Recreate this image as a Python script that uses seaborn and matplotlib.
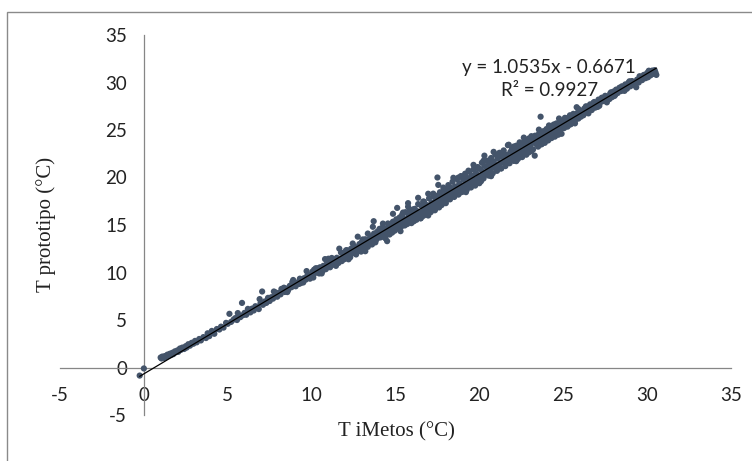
import matplotlib
matplotlib.use("Agg")
import matplotlib.pyplot as plt
import seaborn as sns
import pandas as pd
import numpy as np
from matplotlib.patches import Rectangle

# ---- data ----
t_imetos = [
    -0.25, 0.00,
    1.00, 1.05, 1.10, 1.20, 1.25, 1.30, 1.40, 1.45, 1.55, 1.60, 1.70, 1.75, 1.85, 1.90,
    2.00, 2.05, 2.15, 2.20, 2.30, 2.40, 2.50, 2.55, 2.65, 2.75, 2.85, 2.95, 3.05, 3.15,
    3.30, 3.40, 3.55, 3.70, 3.80, 3.90, 4.05, 4.20, 4.35, 4.50, 4.60, 4.75, 4.90, 5.00,
    5.10, 5.20, 5.35,
    5.45, 5.55, 5.65, 5.75, 5.85, 5.90, 6.00, 6.10, 6.25, 6.35, 6.45, 6.55, 6.65, 6.75,
    6.85, 6.95, 7.05, 7.10, 7.20, 7.30, 7.40, 7.50, 7.60, 7.70, 7.80, 7.85, 7.95, 8.05,
    8.15, 8.25, 8.35, 8.40, 8.50, 8.60, 8.70, 8.80, 8.85, 8.95, 9.05, 9.15, 9.25, 9.30,
    9.40, 9.50, 9.55, 9.65, 9.75, 9.80, 9.90, 10.00,
    10.05, 10.10, 10.15, 10.20, 10.25, 10.30, 10.40, 10.45, 10.50, 10.55, 10.65, 10.70,
    10.75, 10.85, 10.90, 10.95, 11.00, 11.05, 11.10, 11.15, 11.25, 11.30, 11.35, 11.40,
    11.50, 11.55, 11.60, 11.70, 11.75, 11.80, 11.90, 11.95, 12.00, 12.05, 12.10, 12.15,
    12.25, 12.30, 12.35, 12.40, 12.50, 12.55, 12.60, 12.65, 12.70, 12.80, 12.85, 12.90,
    12.95, 13.00, 13.05, 13.10, 13.15, 13.20, 13.25, 13.30, 13.35, 13.40, 13.45, 13.50,
    13.55, 13.60, 13.65, 13.70, 13.72, 13.75, 13.80, 13.85, 13.90, 13.95, 14.00, 14.05,
    14.10, 14.15, 14.20, 14.25, 14.30, 14.35, 14.40, 14.45, 14.50, 14.55, 14.60, 14.65,
    14.70, 14.75, 14.80, 14.85, 14.90, 14.95, 15.00,
    15.05, 15.10, 15.10, 15.15, 15.20, 15.25, 15.30, 15.35, 15.40, 15.45, 15.50, 15.55,
    15.60, 15.65, 15.70, 15.75, 15.78, 15.80, 15.85, 15.90, 15.95, 16.00, 16.05, 16.10,
    16.15, 16.20, 16.25, 16.30, 16.35, 16.40, 16.45, 16.50, 16.55, 16.60, 16.65, 16.70,
    16.75, 16.80, 16.85, 16.90, 16.95, 17.00, 17.05, 17.10, 17.15, 17.20, 17.25, 17.30,
    17.35, 17.40, 17.45, 17.50, 17.52, 17.55, 17.60, 17.65, 17.70, 17.75, 17.80, 17.85,
    17.90, 17.95, 18.00, 18.05, 18.10, 18.15, 18.20, 18.25, 18.30, 18.35, 18.40, 18.45,
    18.50, 18.55, 18.60, 18.65, 18.70, 18.75, 18.80, 18.85, 18.90, 18.95, 19.00, 19.05,
    19.10, 19.15, 19.20, 19.25, 19.30, 19.35, 19.40, 19.45, 19.50, 19.55, 19.60, 19.65,
    19.70, 19.75, 19.80, 19.85, 19.90, 19.95, 20.00,
    20.05, 20.10, 20.15, 20.20, 20.25, 20.30, 20.32, 20.40, 20.45, 20.50, 20.55, 20.60,
    20.65, 20.70, 20.75, 20.80, 20.85, 20.90, 20.95, 21.00, 21.05, 21.10, 21.15, 21.20,
    21.25, 21.30, 21.35, 21.40, 21.45, 21.50, 21.55, 21.60, 21.65, 21.70, 21.72, 21.80,
    21.85, 21.90, 21.95, 22.00, 22.05, 22.10, 22.15, 22.20, 22.25, 22.30, 22.35, 22.40,
    22.45, 22.50, 22.55, 22.60, 22.65, 22.70, 22.75, 22.80, 22.85, 22.90, 22.95, 23.00,
    23.05, 23.10, 23.15, 23.20, 23.25, 23.30, 23.32, 23.40, 23.45, 23.50, 23.55, 23.60,
    23.65, 23.70, 23.75, 23.80, 23.85, 23.90, 23.95, 24.00, 24.05, 24.10, 24.15, 24.20,
    24.25, 24.30, 24.35, 24.40, 24.45, 24.50, 24.55, 24.60, 24.65, 24.70, 24.75, 24.80,
    24.85, 24.90, 24.95, 25.00,
    25.05, 25.10, 25.15, 25.20, 25.25, 25.30, 25.35, 25.40, 25.45, 25.50, 25.55, 25.60,
    25.65, 25.70, 25.75, 25.80, 25.85, 25.90, 25.95, 26.00, 26.05, 26.10, 26.20, 26.25,
    26.30, 26.40, 26.45, 26.55, 26.60, 26.70, 26.75, 26.85, 26.90, 27.00, 27.10, 27.15,
    27.25, 27.30, 27.40, 27.50, 27.55, 27.65, 27.75, 27.80, 27.90, 28.00, 28.10, 28.15,
    28.25, 28.35, 28.45, 28.50, 28.60, 28.70, 28.80, 28.90, 29.00, 29.10, 29.20, 29.35,
    29.40, 29.50, 29.60, 29.70, 29.80, 29.90, 30.00, 30.05, 30.15, 30.20, 30.30, 30.35,
    30.45, 30.50, 30.55,
]

t_prototipo = [
    -0.85, -0.10,
    1.05, 0.95, 1.15, 1.00, 1.20, 1.10, 1.35, 1.20, 1.45, 1.30, 1.55, 1.40, 1.70, 1.60,
    1.80, 1.65, 2.00, 1.85, 2.10, 1.95, 2.25, 2.10, 2.45, 2.30, 2.60, 2.50, 2.80, 2.65,
    3.00, 2.85, 3.20, 3.10, 3.60, 3.30, 3.85, 3.55, 4.05, 4.00, 4.30, 4.20, 4.70, 4.60,
    5.65, 4.80, 5.05,
    5.20, 5.00, 5.45, 5.30, 6.80, 5.50, 5.75, 5.55, 5.95, 5.80, 6.20, 6.00, 6.45, 6.30,
    6.15, 6.75, 8.00, 6.60, 6.95, 6.80, 7.20, 7.00, 7.40, 7.25, 7.60, 7.90, 7.45, 7.85,
    7.70, 8.10, 8.40, 7.95, 8.30, 8.15, 8.60, 8.45, 9.00, 8.70, 8.55, 8.95, 8.80, 9.35,
    9.10, 8.95, 9.40, 9.25, 9.70, 9.50, 9.35, 9.85,
    10.10, 9.75, 10.30, 9.95, 10.45, 10.05, 10.20, 9.90, 10.55, 10.30, 10.15, 10.70,
    10.45, 10.35, 10.90, 10.60, 11.45, 10.80, 10.55, 11.05, 10.85, 11.30, 11.10, 10.80,
    11.55, 11.25, 11.00, 11.45, 12.10, 11.20, 11.70, 11.40, 12.00, 11.65, 12.35, 11.85,
    12.15, 11.60, 12.50, 12.00, 12.30, 12.75, 12.10, 11.90, 12.55, 12.35, 13.00, 12.65,
    12.20, 13.25, 12.80, 12.55, 13.10, 13.50, 12.90, 13.20, 12.70, 13.45, 13.05, 13.75,
    13.30, 12.95, 13.60, 15.40, 14.10, 13.25, 13.80, 13.45, 14.25, 13.65, 14.00, 14.60,
    13.75, 14.30, 13.90, 14.80, 14.15, 13.70, 14.50, 14.10, 13.30, 14.75, 14.35, 14.00,
    15.10, 14.55, 14.20, 15.35, 14.70, 14.40, 15.05,
    15.60, 16.80, 14.75, 15.30, 14.90, 15.80, 15.45, 14.85, 16.10, 15.20, 15.65, 14.95,
    16.35, 15.50, 15.10, 17.30, 16.00, 15.35, 16.55, 15.75, 15.20, 16.30, 15.90, 15.40,
    16.70, 16.05, 15.55, 16.45, 17.20, 15.85, 16.25, 15.70, 17.00, 16.40, 15.95, 17.45,
    16.65, 16.10, 17.10, 16.50, 16.00, 17.80, 16.90, 16.35, 17.35, 16.70, 18.30, 17.15,
    16.55, 17.60, 16.95, 20.00, 18.10, 17.40, 16.85, 18.45, 17.70, 17.10, 18.00, 17.35,
    18.75, 18.20, 17.55, 18.55, 17.85, 19.20, 18.35, 17.70, 18.90, 18.10, 19.55, 18.60,
    17.95, 19.05, 18.40, 19.85, 18.80, 18.20, 19.40, 18.65, 20.15, 19.10, 18.50, 19.75,
    19.00, 20.40, 19.30, 18.70, 19.95, 19.25, 20.60, 19.55, 18.95, 20.20, 19.50, 20.85,
    19.80, 19.15, 20.45, 19.70, 21.10, 20.05, 19.40,
    20.90, 20.25, 21.55, 20.60, 19.90, 22.30, 21.20, 20.55, 21.75, 20.90, 20.20, 21.40,
    20.75, 22.05, 21.10, 20.45, 21.70, 21.05, 22.40, 21.35, 20.70, 22.00, 21.30, 22.60,
    21.55, 20.95, 22.20, 21.60, 22.85, 21.85, 21.20, 22.40, 21.75, 23.40, 22.15, 21.50,
    22.70, 22.05, 23.05, 22.35, 21.75, 22.90, 22.25, 23.35, 22.55, 21.95, 23.10, 23.70,
    22.45, 22.85, 22.15, 23.45, 22.80, 23.90, 23.05, 22.40, 23.60, 23.20, 22.65, 23.95,
    23.40, 24.35, 23.65, 22.95, 23.85, 22.30, 24.40, 23.70, 24.10, 23.25, 24.60, 24.00,
    26.40, 23.50, 24.30, 24.85, 24.10, 23.65, 24.55, 25.10, 24.35, 23.90, 24.80, 25.35,
    24.55, 24.15, 25.05, 25.50, 24.75, 24.30, 25.20, 25.70, 24.95, 24.50, 25.40, 25.85,
    25.10, 24.60, 25.60, 25.95,
    25.20, 26.10, 25.55, 25.90, 25.35, 26.30, 25.75, 26.55, 25.60, 26.20, 25.85, 26.70,
    26.05, 25.70, 26.45, 27.40, 26.80, 26.20, 26.60, 27.05, 26.40, 26.85, 26.55, 27.25,
    26.80, 27.45, 26.95, 27.20, 27.70, 27.10, 27.55, 27.95, 27.35, 27.75, 28.20, 27.55,
    27.95, 28.40, 28.05, 28.60, 28.15, 28.50, 28.25, 28.85, 28.45, 29.05, 28.70, 29.25,
    28.90, 29.45, 29.10, 29.60, 29.20, 29.80, 29.35, 30.00, 29.60, 30.15, 29.75, 29.50,
    30.30, 30.00, 30.60, 30.25, 30.80, 30.45, 31.00, 30.55, 31.15, 30.75, 31.25, 30.90,
    31.30, 31.05, 30.80,
]

t_imetos_extra = [
    5.60, 6.20, 6.90, 7.40, 7.75,
    8.20, 8.55, 8.90, 9.35, 9.70, 10.10, 10.35, 10.60, 10.80, 11.05, 11.20, 11.45,
    11.65, 11.85, 12.05, 12.20, 12.45, 12.60, 12.75, 12.90, 13.05, 13.20, 13.35, 13.50,
    13.65, 13.80, 13.95, 14.10, 14.25, 14.40, 14.55, 14.70, 14.85, 15.00, 15.15, 15.30,
    15.45, 15.60, 15.75, 15.90, 16.05, 16.20, 16.35, 16.50, 16.65, 16.80, 16.95, 17.10,
    17.25, 17.40, 17.55, 17.70, 17.85, 18.00, 18.15, 18.30, 18.45, 18.60, 18.75, 18.90,
    19.05, 19.20, 19.35, 19.50, 19.65, 19.80, 19.95, 20.10, 20.25, 20.40, 20.55, 20.70,
    20.85, 21.00, 21.15, 21.30, 21.45, 21.60, 21.75, 21.90, 22.05, 22.20, 22.35, 22.50,
    22.65, 22.80, 22.95, 23.10, 23.25, 23.40, 23.55, 23.70, 23.85, 24.00, 24.15, 24.30,
    24.45, 24.60, 24.75, 24.90, 25.10, 25.30, 25.50, 25.70, 25.90, 26.15, 26.35, 26.50,
    26.80, 27.05, 27.35, 27.60, 27.85, 28.05, 28.40, 28.65, 28.95, 29.25, 29.55, 29.85,
    30.10, 30.40,
]
t_prototipo_extra = [
    5.73, 6.17, 7.20, 7.33, 8.00,
    8.27, 7.94, 9.21, 8.88, 10.15, 9.47, 10.44, 9.90, 11.41, 10.77, 11.53, 10.70,
    12.51, 11.42, 12.33, 11.39, 13.05, 12.31, 13.77, 12.32, 13.48, 12.24, 14.10, 13.36,
    14.81, 13.17, 14.33, 13.69, 15.15, 13.60, 15.16, 14.52, 16.18, 14.54, 15.49, 14.35,
    16.31, 15.37, 16.93, 15.28, 16.64, 15.80, 17.86, 15.72, 17.47, 16.73, 18.29, 16.45,
    18.01, 17.16, 19.22, 17.28, 18.94, 17.30, 18.75, 18.01, 19.97, 18.53, 19.99, 18.44,
    19.90, 18.46, 20.72, 19.58, 21.33, 19.49, 20.95, 19.61, 21.77, 20.32, 21.78, 20.14,
    22.70, 21.06, 22.51, 20.97, 22.33, 21.49, 23.45, 22.10, 23.26, 21.72, 23.38, 22.34,
    24.20, 22.95, 24.11, 22.77, 24.13, 23.49, 25.04, 23.50, 24.86, 24.32, 25.48, 24.33,
    25.59, 24.85, 26.21, 25.37, 26.28, 25.49, 26.50, 26.01, 27.22, 26.58, 27.49, 26.75,
    27.87, 27.43, 28.35, 27.91, 28.97, 28.58, 29.45, 29.12, 30.13, 29.85, 30.66, 30.58,
    31.24, 31.16,
]

slope = 1.0535
intercept = -0.6671
equation_text = "y = 1.0535x - 0.6671"
r2_text = "R² = 0.9927"

x_ticks = [-5, 0, 5, 10, 15, 20, 25, 30, 35]
y_ticks = [-5, 0, 5, 10, 15, 20, 25, 30, 35]
x_label = "T iMetos (°C)"
y_label = "T prototipo (°C)"

df = pd.DataFrame({"x": t_imetos + t_imetos_extra,
                   "y": t_prototipo + t_prototipo_extra})

# ---- drawing ----
sns.set_style("white")
plt.rcParams["font.family"] = ["Lato", "DejaVu Sans"]

W, H = 752, 461
fig = plt.figure(figsize=(W / 100, H / 100), dpi=100)
ax = fig.add_axes([60 / W, 46 / H, 671 / W, 380 / H])

axis_col = "#868686"
marker_col = "#44546A"

sns.scatterplot(data=df, x="x", y="y", ax=ax, color=marker_col, s=20,
                linewidth=0, edgecolor="none", zorder=3)

xs = np.array([df["x"].min(), df["x"].max()])
ax.plot(xs, slope * xs + intercept, color="black", lw=0.9, zorder=4)

ax.set_xlim(-5, 35)
ax.set_ylim(-5, 35)
ax.set_xticks(x_ticks)
ax.set_yticks(y_ticks)
ax.set_xticklabels([str(t) for t in x_ticks])
ax.set_yticklabels([str(t) for t in y_ticks])

for s in ["top", "right"]:
    ax.spines[s].set_visible(False)
ax.spines["left"].set_position(("data", 0))
ax.spines["bottom"].set_position(("data", 0))
for s in ["left", "bottom"]:
    ax.spines[s].set_color(axis_col)
    ax.spines[s].set_linewidth(0.9)

ax.tick_params(axis="x", length=0, pad=14, labelsize=13.5, labelcolor="#222222")
ax.tick_params(axis="y", length=0, pad=12, labelsize=13.5, labelcolor="#222222")

ax.set_xlabel("")
ax.set_ylabel("")
serif = ["Liberation Serif", "DejaVu Serif"]
fig.text(396 / W, 1 - 432 / H, x_label, ha="center", va="center",
         fontsize=15, family=serif, color="#222222")
fig.text(46 / W, 1 - 224 / H, y_label, ha="center", va="center", rotation=90,
         fontsize=15, family=serif, color="#222222")

fig.text(549 / W, 1 - 67 / H, equation_text, ha="center", va="center",
         fontsize=13.5, color="#222222")
fig.text(550 / W, 1 - 90 / H, r2_text, ha="center", va="center",
         fontsize=13.5, color="#222222")

fig.patches.append(Rectangle((7 / W, -0.1), 1.2, 1.1 - 12 / H,
                             transform=fig.transFigure, fill=False,
                             edgecolor="#8a8a8a", lw=1.0, zorder=0))

fig.savefig("out.png", dpi=100)
